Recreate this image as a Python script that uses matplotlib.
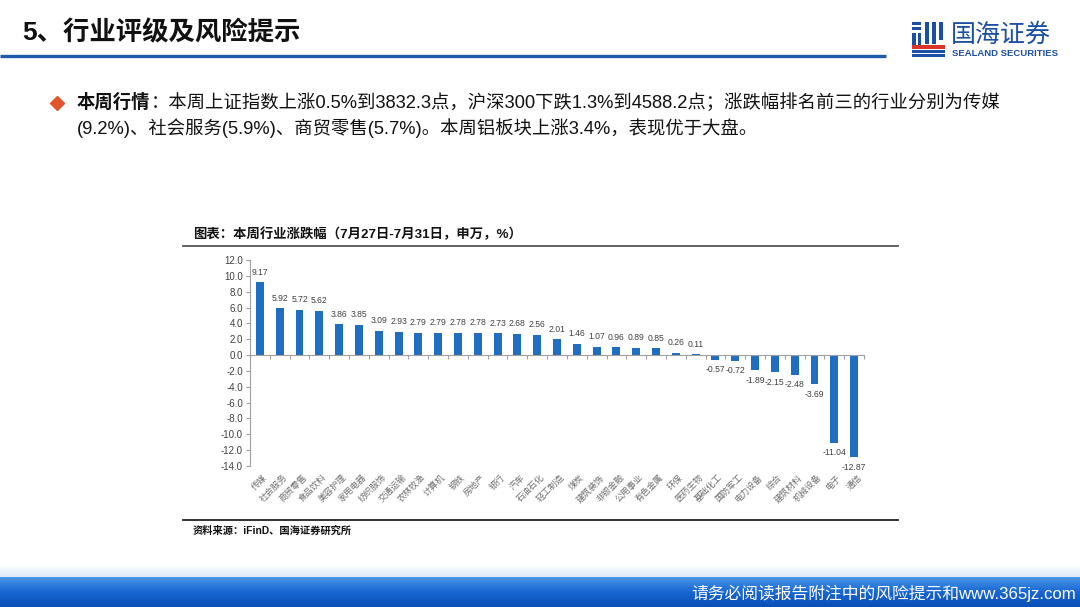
import matplotlib
matplotlib.use("Agg")
import matplotlib.pyplot as plt
import numpy as np
from matplotlib.patches import Rectangle
from matplotlib.colors import LinearSegmentedColormap

plt.rcParams['font.family'] = ['Liberation Sans', 'Noto Sans CJK SC', 'DejaVu Sans']

# ---- data ----
industries = ["传媒", "社会服务", "商贸零售", "食品饮料", "美容护理", "家用电器", "纺织服饰",
              "交通运输", "农林牧渔", "计算机", "钢铁", "房地产", "银行", "汽车", "石油石化",
              "轻工制造", "煤炭", "建筑装饰", "非银金融", "公用事业", "有色金属", "环保",
              "医药生物", "基础化工", "国防军工", "电力设备", "综合", "建筑材料", "机械设备",
              "电子", "通信"]
changes = [9.17, 5.92, 5.72, 5.62, 3.86, 3.85, 3.09, 2.93, 2.79, 2.79, 2.78, 2.78, 2.73,
           2.68, 2.56, 2.01, 1.46, 1.07, 0.96, 0.89, 0.85, 0.26, 0.11, -0.57, -0.72, -1.89,
           -2.15, -2.48, -3.69, -11.04, -12.87]
y_ticks = [12.0, 10.0, 8.0, 6.0, 4.0, 2.0, 0.0, -2.0, -4.0, -6.0, -8.0, -10.0, -12.0, -14.0]

W, H = 1080, 607
fig = plt.figure(figsize=(W / 100, H / 100), dpi=100)

# background / decoration layer in pixel coordinates
bg = fig.add_axes([0, 0, 1, 1])
bg.set_xlim(0, W)
bg.set_ylim(H, 0)
bg.axis('off')

# header
bg.text(22, 33, "5、行业评级及风险提示", fontsize=19, fontweight='bold', color='#111111',
        va='center', ha='left')
bg.plot([0, 886], [56, 56], color='#1E5BAA', lw=2.4, solid_capstyle='butt')

# logo icon (approximation)
blue = '#1B4FA3'
red = '#D9342B'
for (x, y, w, h, c) in [
    (912, 22, 9, 3, blue), (912, 27, 9, 3, blue),
    (912, 33, 4, 16, blue), (918, 33, 3, 12, blue),
    (925, 22, 4, 22, blue), (932, 22, 4, 22, blue),
    (939, 22, 4, 18, blue),
    (912, 45, 33, 4, red), (912, 50, 33, 3, blue), (912, 54, 33, 3, blue),
]:
    bg.add_patch(Rectangle((x, y), w, h, color=c, lw=0))
bg.text(951, 35, "国海证券", fontsize=18, color=blue, va='center', ha='left',
        family=['Noto Sans CJK SC'], fontweight='medium')
bg.text(952, 53, "SEALAND SECURITIES", fontsize=6.8, color=blue, va='center', ha='left',
        fontweight='bold')

# body text
bg.plot([57], [103], marker='D', color='#E2542B', markersize=7)
t1 = bg.text(77, 103, "本周行情", fontsize=13.2, fontweight='bold', color='#111111',
             va='center', ha='left')
bg.annotate("：本周上证指数上涨0.5%到3832.3点，沪深300下跌1.3%到4588.2点；涨跌幅排名前三的行业分别为传媒",
            xy=(1, 0.5), xycoords=t1, va='center', ha='left', fontsize=13.2, color='#111111')
bg.text(77, 128, "(9.2%)、社会服务(5.9%)、商贸零售(5.7%)。本周铝板块上涨3.4%，表现优于大盘。",
        fontsize=13.2, color='#111111', va='center', ha='left')

# chart title & frame lines
bg.text(193, 234, "图表：本周行业涨跌幅（7月27日-7月31日，申万，%）", fontsize=9.6,
        fontweight='bold', color='#111111', va='center', ha='left')
bg.plot([183, 898], [246, 246], color='#555555', lw=1.3)
bg.plot([183, 898], [520, 520], color='#222222', lw=1.3)
bg.text(193, 531, "资料来源：iFinD、国海证券研究所", fontsize=7.4, fontweight='bold',
        color='#111111', va='center', ha='left')

# footer gradient
grad = np.linspace(0, 1, 100).reshape(-1, 1)
cmap_top = LinearSegmentedColormap.from_list('t', ['#FFFFFF', '#DCE9F8'])
bg.imshow(grad, extent=(0, W, 577, 565), cmap=cmap_top, aspect='auto', zorder=0)
cmap_bar = LinearSegmentedColormap.from_list('b', ['#4A96E6', '#1766D2', '#0C4FB6'])
bg.imshow(grad, extent=(0, W, 607, 577), cmap=cmap_bar, aspect='auto', zorder=0)
bg.set_xlim(0, W)
bg.set_ylim(H, 0)
bg.text(1076, 593, "请务必阅读报告附注中的风险提示和www.365jz.com", fontsize=12.1,
        color='white', va='center', ha='right')

# ---- chart ----
ax = fig.add_axes([250 / W, 1 - 466 / H, (864 - 250) / W, (466 - 260) / H])
x = np.arange(len(industries))
ax.bar(x, changes, width=0.4, color='#1F6EC1', zorder=2)
ax.set_xlim(-0.5, len(industries) - 0.5)
ax.set_ylim(-14, 12)
ax.set_yticks(y_ticks)
ax.set_yticklabels([f"{v:.1f}" for v in y_ticks], fontsize=7, color='#404040')
ax.tick_params(axis='y', length=3, color='#A0A0A0', width=0.8, pad=2)

for s in ['top', 'right']:
    ax.spines[s].set_visible(False)
ax.spines['left'].set_color('#A0A0A0')
ax.spines['left'].set_linewidth(0.8)
ax.spines['bottom'].set_position(('data', 0))
ax.spines['bottom'].set_color('#A0A0A0')
ax.spines['bottom'].set_linewidth(0.8)
ax.set_xticks(np.arange(-0.5, len(industries) + 0.5, 1.0))
ax.set_xticklabels([])
ax.tick_params(axis='x', length=3, color='#A0A0A0', width=0.8, direction='out')

for xi, v in zip(x, changes):
    if v >= 0:
        ax.annotate(f"{v:.2f}", xy=(xi, v), xytext=(0, 4), textcoords='offset points',
                    ha='center', va='bottom', fontsize=6.2, color='#404040')
    else:
        ax.annotate(f"{v:.2f}", xy=(xi, v), xytext=(0, -4), textcoords='offset points',
                    ha='center', va='top', fontsize=6.2, color='#404040')

for xi, name in zip(x, industries):
    ax.annotate(name, xy=(xi, 0), xycoords=('data', 'axes fraction'), xytext=(2, -5),
                textcoords='offset points', ha='right', va='top', rotation=45,
                rotation_mode='anchor', fontsize=6.3, color='#707070',
                family=['Noto Sans CJK SC'])

fig.savefig("out.png", dpi=100)
